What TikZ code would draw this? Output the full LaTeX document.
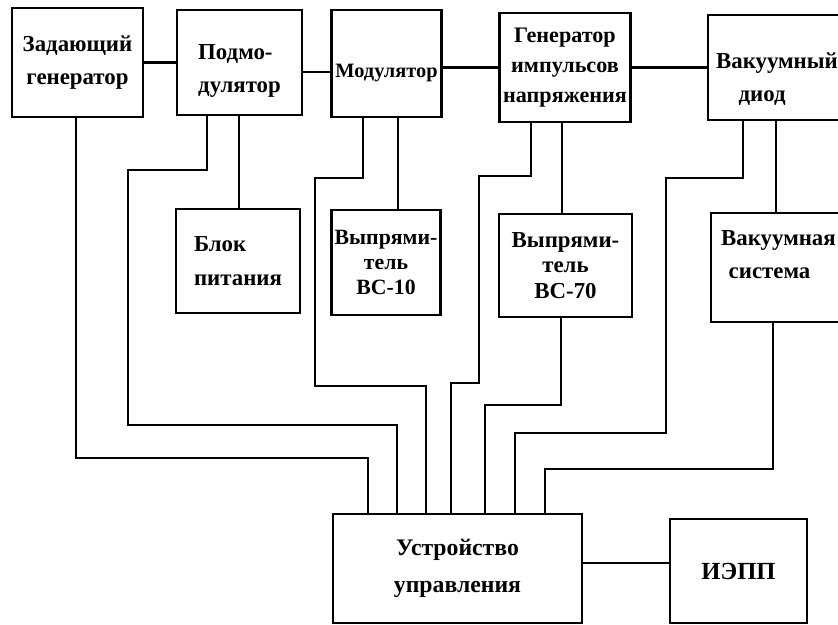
\documentclass[tikz,border=0pt]{standalone}
\usepackage{fontspec}
\setmainfont{Liberation Serif}
\usetikzlibrary{positioning}
\tikzset{
  block/.style={draw, line width=1.6pt, inner sep=2pt, align=center,
    font=\bfseries\fontsize{13}{19}\selectfont},
  link/.style={line width=1.6pt},
  wire/.style={line width=1pt},
}
\begin{document}
\begin{tikzpicture}[x=0.02cm, y=-0.02cm]
\clip (0,0) rectangle (838,625);
\node[block, minimum width=2.62cm, minimum height=2.18cm] (zg) at (77.5,62.5) {Задающий\\генератор};
\node[block, minimum width=2.5cm, minimum height=2.1cm, align=left, text height=37pt] (pm) at (239.5,62.5) {Подмо-\\дулятор};
\node[block, minimum width=2.14cm, minimum height=2.14cm, font=\bfseries\fontsize{11.6}{19}\selectfont, text height=19pt] (mod) at (386.5,63.5) {Модулятор};
\node[block, minimum width=2.6cm, minimum height=2.18cm, font=\bfseries\fontsize{12.6}{17}\selectfont] (gin) at (565,67.5) {Генератор\\импульсов\\напряжения};
\node[block, minimum width=2.76cm, minimum height=2.1cm, align=left, text height=41pt] (vd) at (777,67.5) {Вакуумный\\\hspace*{0.45cm}диод};
\node[block, minimum width=2.48cm, minimum height=2.08cm, align=left] (bp) at (238,261) {Блок\\питания};
\node[block, minimum width=2.16cm, minimum height=2.1cm, font=\bfseries\fontsize{12.4}{14}\selectfont] (vs10) at (386,262.5) {Выпрями-\\тель\\ВС-10};
\node[block, minimum width=2.66cm, minimum height=2.06cm, font=\bfseries\fontsize{13}{14.5}\selectfont] (vs70) at (565.5,265.5) {Выпрями-\\тель\\ВС-70};
\node[block, minimum width=2.7cm, minimum height=2.18cm, align=left, text depth=15pt] (vsys) at (778.5,267.5) {Вакуумная\\\hspace*{0.15cm}система};
\node[block, minimum width=4.98cm, minimum height=2.18cm, font=\bfseries\fontsize{13.5}{21}\selectfont] (uu) at (457.5,568.5) {Устройство\\управления};
\node[block, minimum width=2.74cm, minimum height=2.08cm, font=\bfseries\fontsize{14}{19}\selectfont] (iepp) at (738.5,571) {ИЭПП};
\draw[link] (zg) -- (pm);
\draw[link] (pm.east |- 0,72) -- (mod.west |- 0,72);
\draw[link] (gin.west -| mod.east) -- (gin.west);
\draw[link] (gin) -- (vd);
\draw[link] (pm.south -| 239,0) -- (bp.north -| 239,0);
\draw[link] (mod.south -| 398,0) -- (vs10.north -| 398,0);
\draw[link] (gin.south -| 562,0) -- (vs70.north -| 562,0);
\draw[link] (vd.south -| 776,0) -- (vsys.north -| 776,0);
\draw[link] (uu.east |- 0,563) -- (iepp.west |- 0,563);
\draw[wire] (zg.south -| 76,0) |- (368,458) -- (uu.north -| 368,0);
\draw[wire] (pm.south -| 207,0) |- (128,170) |- (397,425) -- (uu.north -| 397,0);
\draw[wire] (mod.south -| 363,0) |- (315,178) |- (426,386) -- (uu.north -| 426,0);
\draw[wire] (gin.south -| 531,0) |- (479,176) |- (451,383) -- (uu.north -| 451,0);
\draw[wire] (vs70.south -| 561,0) |- (485,405) -- (uu.north -| 485,0);
\draw[wire] (vd.south -| 743,0) |- (666,178) |- (515,433) -- (uu.north -| 515,0);
\draw[wire] (vsys.south -| 773,0) |- (545,469) -- (uu.north -| 545,0);
\end{tikzpicture}
\end{document}
